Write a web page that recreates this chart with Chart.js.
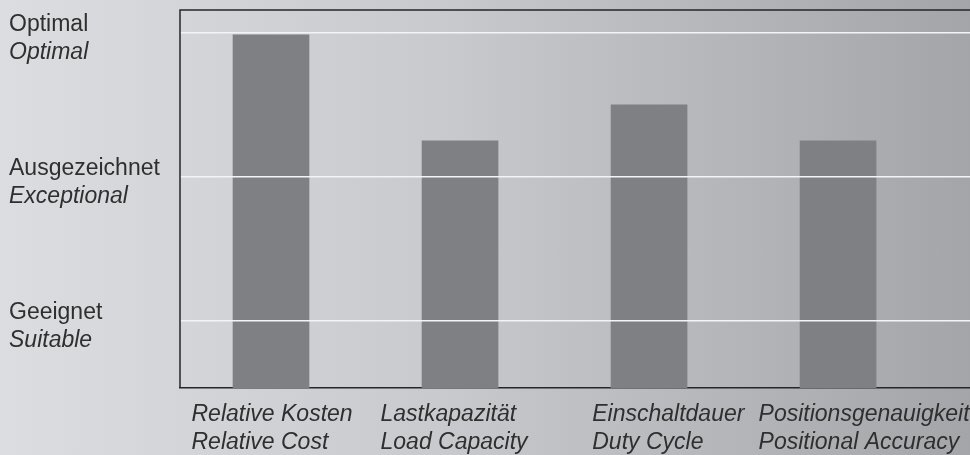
<!DOCTYPE html>
<html>
<head>
<meta charset="utf-8">
<script src="https://cdn.jsdelivr.net/npm/chart.js@4.4.1/dist/chart.umd.min.js"></script>
<style>
  html, body { margin: 0; padding: 0; }
  body { width: 970px; height: 455px; overflow: hidden;
         background: linear-gradient(to right, #dcdde0 0%, #c9cacd 45%, #a4a5a8 100%); }
  canvas { display: block; }
</style>
</head>
<body>
<canvas id="c" width="970" height="455"></canvas>
<script>
// ---- data ----
const categories = [
  ['Relative Kosten', 'Relative Cost'],
  ['Lastkapazität', 'Load Capacity'],
  ['Einschaltdauer', 'Duty Cycle'],
  ['Positionsgenauigkeit', 'Positional Accuracy']
];
const ratings = [2.985, 2.25, 2.5, 2.25];
const levelValues = [1, 2, 3];
const levelLabelsDe = ['Geeignet', 'Ausgezeichnet', 'Optimal'];
const levelLabelsEn = ['Suitable', 'Exceptional', 'Optimal'];

// ---- styling / layout ----
const TEXT = '#2f2f30';
const FRAME = '#262627';
const FONT = 'Liberation Sans, Arial, Helvetica, sans-serif';
const Y_MIN = 0.533, Y_MAX = 3.158;
const labelNudge = [0, 0, 0.12, 0];   // per-category label shift (category units)

const frame = {
  id: 'frame',
  afterDraw(chart) {
    const { ctx, chartArea: a } = chart;
    ctx.save();
    ctx.strokeStyle = FRAME;
    ctx.lineWidth = 1.5;
    ctx.beginPath();
    ctx.moveTo(a.right, a.top);
    ctx.lineTo(a.left, a.top);
    ctx.lineTo(a.left, a.bottom);
    ctx.stroke();
    ctx.restore();
  }
};

const levelTick = (s) => { s.ticks = levelValues.map(v => ({ value: v })); };

const chart = new Chart(document.getElementById('c'), {
  type: 'bar',
  data: {
    datasets: [{
      data: categories.map((c, i) => ({ x: i, y: ratings[i] })),
      backgroundColor: '#7f8083',
      borderWidth: 0,
      barThickness: 76,
      clip: 0
    }]
  },
  plugins: [frame],
  options: {
    responsive: false,
    animation: false,
    events: [],
    layout: { padding: { top: 10, left: 9, right: 0, bottom: 0 }, autoPadding: false },
    plugins: { legend: { display: false }, tooltip: { enabled: false } },
    scales: {
      x: {
        type: 'linear',
        position: 'bottom',
        offset: false,
        min: -0.4815,
        max: 3.698,
        afterBuildTicks: (s) => { s.ticks = categories.map((c, i) => ({ value: i + labelNudge[i] })); },
        afterFit: (s) => { s.height = 67; s.paddingLeft = 0; s.paddingRight = 0; },
        grid: { display: false, drawTicks: false, offset: false },
        border: { display: true, color: FRAME, width: 1.5 },
        ticks: {
          autoSkip: false,
          maxRotation: 0,
          align: 'start',
          labelOffset: -79.5,
          padding: 12,
          color: TEXT,
          font: { family: FONT, size: 23, style: 'italic', lineHeight: 1.24 },
          callback: (v, idx) => categories[idx]
        }
      },
      y: {
        type: 'linear',
        position: 'left',
        weight: 0,
        min: Y_MIN,
        max: Y_MAX,
        afterBuildTicks: levelTick,
        afterFit: (s) => { s.width = 171; s.paddingTop = 0; s.paddingBottom = 0; },
        grid: { color: '#f4f4f4', lineWidth: 1.5, drawTicks: false, z: 1 },
        border: { display: false },
        ticks: {
          crossAlign: 'far',
          labelOffset: -8.5,
          color: TEXT,
          font: { family: FONT, size: 23 },
          callback: (v) => levelLabelsDe[levelValues.indexOf(v)]
        }
      },
      yEn: {
        type: 'linear',
        position: 'left',
        axis: 'y',
        weight: 1,
        min: Y_MIN,
        max: Y_MAX,
        afterBuildTicks: levelTick,
        afterFit: (s) => { s.width = 0; s.paddingTop = 0; s.paddingBottom = 0; },
        grid: { display: false, drawTicks: false },
        border: { display: false },
        ticks: {
          mirror: true,
          crossAlign: 'near',
          padding: 0,
          labelOffset: 20,
          color: TEXT,
          font: { family: FONT, size: 23, style: 'italic' },
          callback: (v) => levelLabelsEn[levelValues.indexOf(v)]
        }
      }
    }
  }
});
</script>
</body>
</html>
